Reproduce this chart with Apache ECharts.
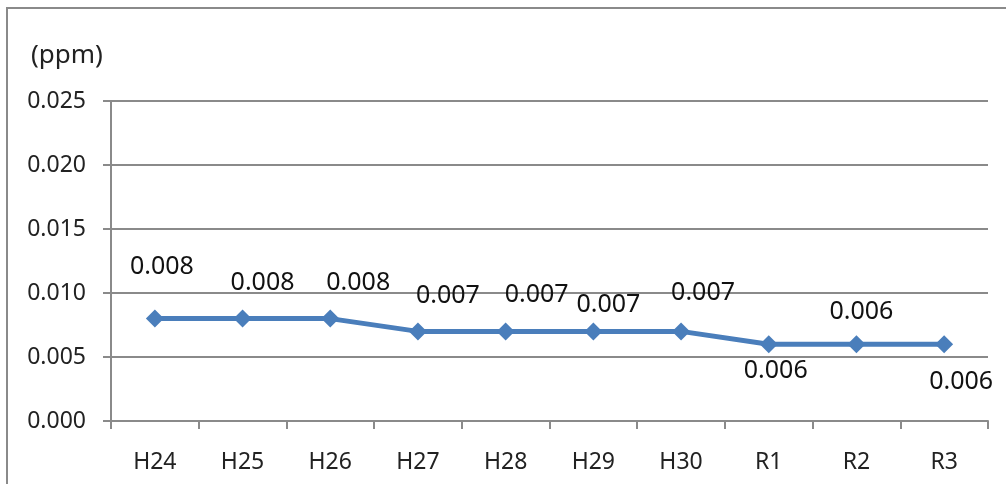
<!DOCTYPE html>
<html>
<head>
<meta charset="utf-8">
<script src="https://cdn.jsdelivr.net/npm/echarts@6/dist/echarts.min.js"></script>
<style>
html,body{margin:0;padding:0;background:#fff;}
#wrap{position:relative;width:1006px;height:484px;overflow:hidden;}
#frame{position:absolute;left:6px;top:7px;width:1010px;height:490px;border-left:2px solid #8a8a8a;border-top:2px solid #8a8a8a;box-sizing:border-box;}
#chart{position:absolute;left:0;top:0;width:1006px;height:484px;}
</style>
</head>
<body>
<div id="wrap"><div id="frame"></div><div id="chart"></div></div>
<script>
const categories = ['H24','H25','H26','H27','H28','H29','H30','R1','R2','R3'];
const values = [0.008,0.008,0.008,0.007,0.007,0.007,0.007,0.006,0.006,0.006];
const yTicks = [0.000,0.005,0.010,0.015,0.020,0.025];
const unitLabel = '(ppm)';

// label placement (style only)
const labelOffsets = [[7,-52],[20,-36],[28,-36],[30,-36],[31,-37],[15,-27],[22,-39],[7,27],[5,-32],[17,38]];

const FONT = '"Noto Sans", sans-serif';
const chart = echarts.init(document.getElementById('chart'), null, {renderer:'canvas'});
const option = {
  animation: false,
  backgroundColor: 'transparent',
  grid: { left: 111, right: 18, top: 101, bottom: 63, containLabel: false },
  graphic: [{
    type: 'text', left: 31, top: 43,
    style: { text: unitLabel, font: '26px ' + FONT, fill: '#222' }
  }],
  xAxis: {
    type: 'category',
    data: categories,
    boundaryGap: true,
    axisLine: { show: true, lineStyle: { color: '#8a8a8a', width: 2 } },
    axisTick: { show: true, length: 8, alignWithLabel: false, lineStyle: { color: '#8a8a8a', width: 2 } },
    axisLabel: { color: '#222', fontSize: 23, fontFamily: FONT, margin: 30 },
    splitLine: { show: false }
  },
  yAxis: {
    type: 'value',
    min: yTicks[0],
    max: yTicks[yTicks.length - 1],
    interval: yTicks[1] - yTicks[0],
    axisLine: { show: true, lineStyle: { color: '#8a8a8a', width: 2 } },
    axisTick: { show: true, length: 8, lineStyle: { color: '#8a8a8a', width: 2 } },
    axisLabel: { color: '#222', fontSize: 23, fontFamily: FONT, margin: 25,
      formatter: v => v.toFixed(3) },
    splitLine: { show: true, lineStyle: { color: '#8a8a8a', width: 2 } }
  },
  series: [{
    type: 'line',
    data: values.map((v, i) => ({
      value: v,
      label: { offset: labelOffsets[i] }
    })),
    symbol: 'diamond',
    symbolSize: 18,
    lineStyle: { color: '#4a7ebb', width: 5 },
    itemStyle: { color: '#4a7ebb' },
    label: {
      show: true,
      position: 'inside',
      color: '#111',
      fontSize: 25,
      fontFamily: FONT,
      formatter: p => p.value.toFixed(3)
    }
  }]
};
chart.setOption(option);
</script>
</body>
</html>
